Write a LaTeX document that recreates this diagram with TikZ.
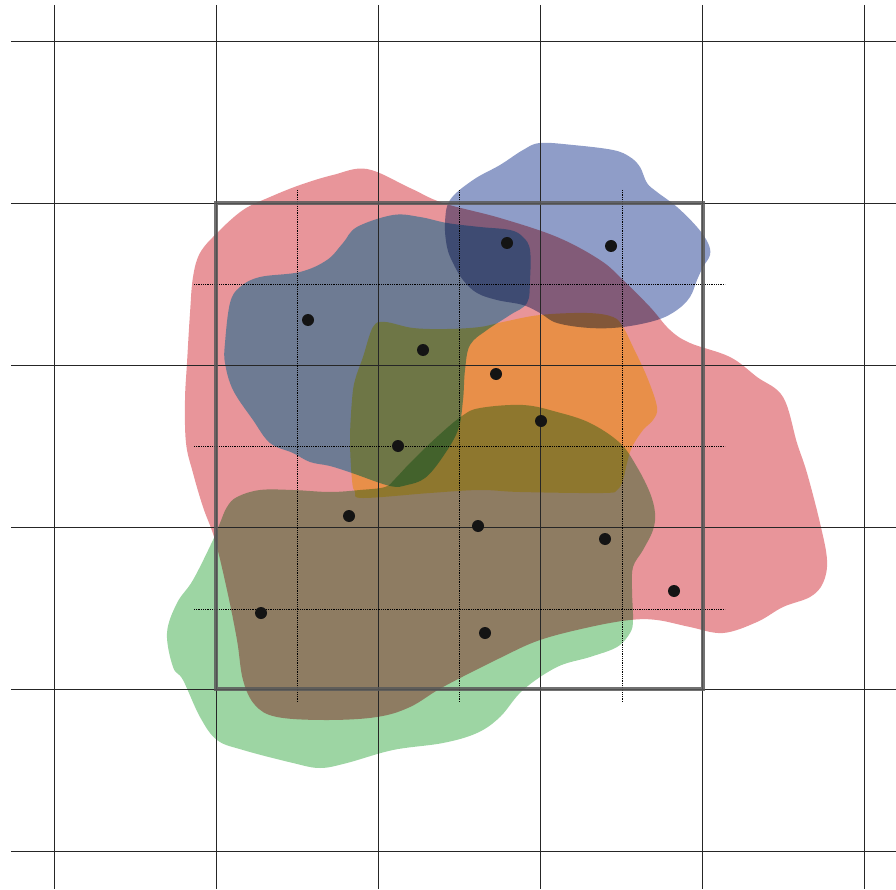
\documentclass[tikz,border=0pt]{standalone}
\usepackage{tikz}
\usetikzlibrary{calc}
\usepackage{xcolor}
\definecolor{blobred}{RGB}{232, 149, 154}
\definecolor{blobblue}{RGB}{143, 157, 200}
\definecolor{blobgreen}{RGB}{157, 213, 163}
\definecolor{blobyellow}{RGB}{255, 246, 122}
\definecolor{blobcyan}{RGB}{122, 211, 244}

\begin{document}
\begin{tikzpicture}[x=1pt, y=-1pt, line cap=butt]
    \useasboundingbox (0,0) rectangle (896,890);
    \tikzset{gridline/.style={black!85, line width=0.9pt},
             subline/.style={black, dash pattern=on 0.9pt off 0.9pt, line width=0.6pt},
             blob/.style={smooth cycle, tension=0.6}}

    % overlapping regions
    \begin{scope}[blend group=multiply]
        \fill[blobred] plot[blob] coordinates {(367,169) (410,188) (443,203) (500,218) (557,237) (600,260) (623,280) (650,307) (670,330) (690,343) (730,357) (757,377) (783,397) (797,443) (807,473) (820,523) (827,560) (823,583) (810,597) (783,607) (757,622) (723,633) (690,627) (657,620) (630,620) (590,627) (540,640) (500,658) (443,687) (410,707) (377,717) (327,720) (277,717) (255,705) (243,680) (237,640) (227,590) (215,540) (203,507) (193,473) (186,443) (185,400) (187,363) (190,313) (193,277) (200,253) (217,233) (243,210) (270,197) (300,185) (333,175)};
        \fill[blobblue] plot[blob] coordinates {(523,150) (540,143) (573,145) (613,150) (630,157) (640,167) (647,183) (657,192) (677,207) (697,227) (708,243) (710,255) (703,267) (697,280) (690,297) (677,310) (657,320) (623,327) (590,328) (557,323) (540,313) (523,305) (497,300) (477,293) (463,280) (453,263) (447,247) (445,223) (450,200) (473,180) (500,165)};
        \fill[blobcyan] plot[blob] coordinates {(357,227) (393,215) (420,217) (447,223) (480,227) (510,230) (523,237) (530,250) (530,280) (527,303) (510,315) (487,330) (470,345) (465,370) (463,400) (458,430) (442,458) (425,478) (407,485) (390,486) (352,473) (330,466) (310,462) (293,453) (270,443) (253,420) (233,390) (225,363) (225,343) (230,303) (240,287) (260,277) (300,272) (327,260) (343,243)};
        \fill[blobyellow] plot[blob] coordinates {(373,327) (385,322) (413,328) (447,329) (480,327) (503,322) (540,315) (587,313) (613,317) (623,327) (633,347) (647,377) (657,407) (653,420) (643,430) (632,447) (627,463) (623,480) (617,490) (603,493) (520,492) (480,490) (430,493) (363,498) (355,492) (352,480) (350,440) (352,400) (355,380) (363,357)};
        \fill[blobgreen] plot[blob] coordinates {(260,490) (237,497) (227,507) (220,523) (213,540) (193,580) (177,603) (167,633) (173,667) (183,680) (200,717) (217,740) (243,750) (293,763) (320,768) (347,763) (393,750) (443,743) (477,733) (500,717) (523,690) (557,667) (590,657) (617,647) (630,633) (633,620) (632,590) (633,567) (643,550) (653,530) (655,513) (650,493) (637,467) (620,443) (590,423) (557,412) (523,405) (480,408) (462,416) (438,436) (411,462) (395,479) (385,487) (360,490) (330,492) (293,490)};
    \end{scope}

    % grid
    \foreach \i in {0,...,5} {
        \draw[gridline] (54+162*\i, 5) -- (54+162*\i, 889);
        \draw[gridline] (11, 41+162*\i) -- (896, 41+162*\i);
    }
    \foreach \i in {0,1,2} {
        \draw[subline] (297+162.5*\i, 190) -- (297+162.5*\i, 702);
        \draw[subline] (194, 284+162.5*\i) -- (725, 284+162.5*\i);
    }
    \draw[black!65, opacity=0.85, line width=4.5pt] (216,203) rectangle (703,689);

    % samples
    \foreach \px/\py [count=\k] in {507/243, 611/246, 308/320, 423/350, 496/374, 541/421, 398/446, 349/516, 478/526, 605/539, 674/591, 261/613, 485/633} {
        \coordinate (s\k) at (\px,\py);
        \fill[black!92] (s\k) circle (6pt);
    }
\end{tikzpicture}
\end{document}
